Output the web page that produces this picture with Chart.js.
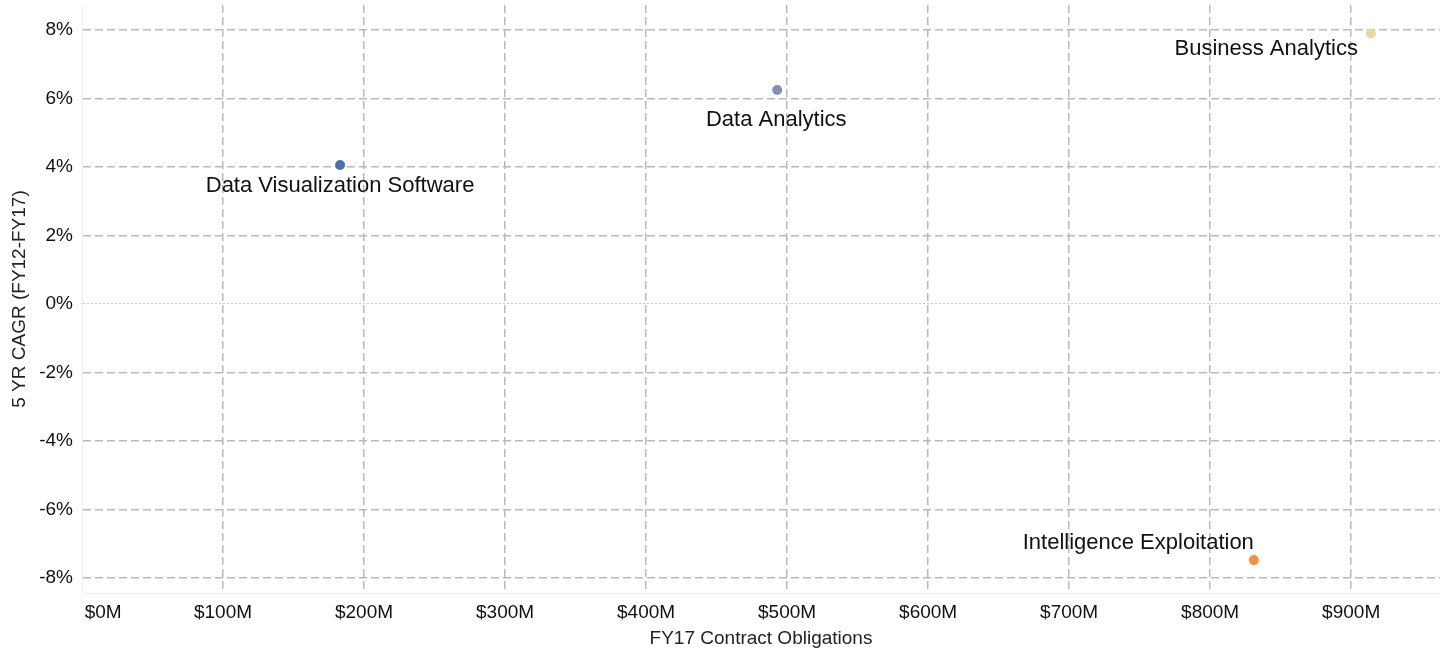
<!DOCTYPE html>
<html>
<head>
<meta charset="utf-8">
<script src="https://cdn.jsdelivr.net/npm/chart.js@4"></script>
<style>
  html, body { margin: 0; padding: 0; background: #fff; }
  #wrap { width: 1445px; height: 650px; }
</style>
</head>
<body>
<div id="wrap"><canvas id="chart" width="1445" height="650"></canvas></div>
<script>
// categorias y valores
const categorias = ["Data Visualization Software", "Data Analytics", "Business Analytics", "Intelligence Exploitation"];
const obligaciones = [183, 493, 914, 831];      // FY17 Contract Obligations, $M
const cagr = [4.06, 6.25, 7.9, -7.48];          // 5 YR CAGR (FY12-FY17), %
const xTicks = [0, 100, 200, 300, 400, 500, 600, 700, 800, 900];
const yTicks = [-8, -6, -4, -2, 0, 2, 4, 6, 8];

const coloresPuntos = ["#4a72a8", "#8190b6", "#e2d9a4", "#f7923a"];
// donde va cada etiqueta respecto a su punto
const posEtiquetas = [
    { align: "center", dx: 0, dy: 21 },
    { align: "center", dx: -1, dy: 30 },
    { align: "right", dx: -13, dy: 16 },
    { align: "right", dx: 0, dy: -17 }
];

const fuente = "'Liberation Sans', Arial, Helvetica, sans-serif";

const etiquetasPlugin = {
    id: "etiquetas",
    afterDatasetsDraw(chart) {
        const ctx = chart.ctx;
        const meta = chart.getDatasetMeta(0);
        ctx.save();
        ctx.font = "22px " + fuente;
        ctx.fillStyle = "#111";
        ctx.textBaseline = "middle";
        meta.data.forEach((pt, i) => {
            const p = posEtiquetas[i];
            ctx.textAlign = p.align;
            ctx.fillText(categorias[i], pt.x + p.dx, pt.y + p.dy);
        });
        ctx.restore();
    }
};

const soloTicks = (lista) => (scale) => {
    scale.ticks = lista.map(v => ({ value: v }));
};

new Chart(document.getElementById("chart").getContext("2d"), {
    type: "scatter",
    data: {
        datasets: [{
            data: obligaciones.map((x, i) => ({ x: x, y: cagr[i] })),
            backgroundColor: coloresPuntos,
            borderWidth: 0,
            pointRadius: 5,
            pointHoverRadius: 5
        }]
    },
    options: {
        responsive: false,
        animation: false,
        layout: { padding: { top: 5, right: 5, left: 0, bottom: 0 } },
        plugins: {
            legend: { display: false },
            tooltip: { enabled: false }
        },
        scales: {
            x: {
                type: "linear",
                min: 0,
                max: 963,
                afterBuildTicks: soloTicks(xTicks),
                afterFit: (s) => { s.height = 57; s.paddingLeft = 0; s.paddingRight = 0; },
                ticks: {
                    color: "#111",
                    font: { family: fuente, size: 19 },
                    padding: 8,
                    maxRotation: 0,
                    // el primer rotulo queda corrido a la derecha, como en el original
                    callback: (v) => v === 0 ? "        $0M" : "$" + v + "M"
                },
                grid: {
                    drawTicks: false,
                    color: (c) => c.tick && c.tick.value === 0 ? "rgba(0,0,0,0)" : "#b9b9b9",
                    lineWidth: 1.5
                },
                border: { display: true, color: "#ececec", width: 1, dash: [8, 4] },
                title: {
                    display: true,
                    text: "FY17 Contract Obligations",
                    color: "#222",
                    font: { family: fuente, size: 19 },
                    padding: { top: 6, bottom: 0 }
                }
            },
            y: {
                type: "linear",
                min: -8.44,
                max: 8.73,
                afterBuildTicks: soloTicks(yTicks),
                afterFit: (s) => { s.width = 82; s.paddingTop = 0; s.paddingBottom = 0; },
                ticks: {
                    color: "#111",
                    font: { family: fuente, size: 19 },
                    padding: 9,
                    callback: (v) => v + "%"
                },
                grid: {
                    drawTicks: false,
                    color: (c) => c.tick && c.tick.value === 0 ? "#c8c8c8" : "#b9b9b9",
                    lineWidth: (c) => c.tick && c.tick.value === 0 ? 1 : 1.5
                },
                border: {
                    display: true,
                    color: "#ececec",
                    width: 1,
                    dash: (c) => c.tick && c.tick.value === 0 ? [2, 2] : [8, 4]
                },
                title: {
                    display: true,
                    text: "5 YR CAGR (FY12-FY17)",
                    color: "#222",
                    font: { family: fuente, size: 19 },
                    padding: { top: 8, bottom: 4 }
                }
            }
        }
    },
    plugins: [etiquetasPlugin]
});
</script>
</body>
</html>
